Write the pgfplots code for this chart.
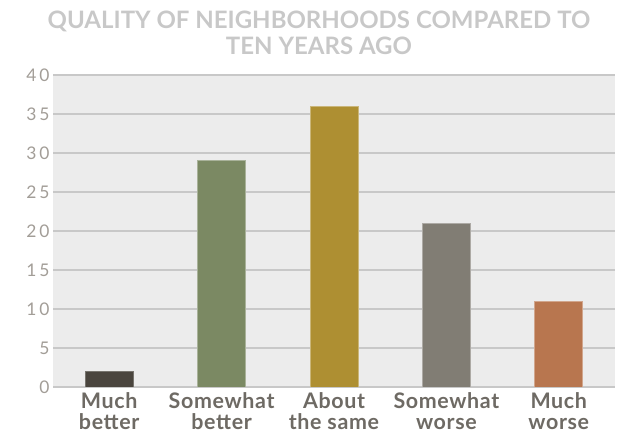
\documentclass[border=0pt]{standalone}
\usepackage{fontspec}
\setmainfont{Lato}
\newfontfamily\xlabfont[LetterSpace=3]{Lato}
\newfontfamily\ylabfont[LetterSpace=16]{Lato}
\usepackage{pgfplots}
\pgfplotsset{compat=1.18}
\definecolor{bg}{HTML}{ECECEC}
\definecolor{gridc}{HTML}{C8C8C8}
\definecolor{ylab}{HTML}{A29D97}
\definecolor{xlab}{HTML}{6E6A64}
\definecolor{titlec}{HTML}{C8C8C8}
\definecolor{c1}{HTML}{4A453E}
\definecolor{c2}{HTML}{7B8963}
\definecolor{c3}{HTML}{AE8F32}
\definecolor{c4}{HTML}{817D74}
\definecolor{c5}{HTML}{B8764F}
\begin{document}
\begin{tikzpicture}
\begin{axis}[
  name=ax,
  at={(53bp,46bp)}, anchor=south west,
  width=562bp, height=312bp, scale only axis,
  xmin=-0.5, xmax=4.5, ymin=0, ymax=40,
  ytick={0,5,...,40},
  xtick={0,1,2,3,4},
  /pgf/number format/assume math mode=true,
  xticklabels={Much\\better, Somewhat\\better, About\\the same, Somewhat\\worse, Much\\worse},
  xticklabel style={align=center, font=\xlabfont\bfseries\fontsize{21.5}{20.5}\selectfont, text=xlab, yshift=-2.5bp},
  yticklabel style={font=\ylabfont\fontsize{17.5}{17.5}\selectfont, text=ylab, xshift=0bp},
  axis background/.style={fill=bg},
  axis line style={draw=none},
  major tick length=0pt,
  ymajorgrids, grid style={gridc, line width=1.6bp},
  ybar, bar width=48bp, bar shift=0pt,
]
\addplot[fill=c1, draw=c1!75!white, line width=0.8bp] coordinates {(0,2)};
\addplot[fill=c2, draw=c2!65!white, line width=0.8bp] coordinates {(1,29)};
\addplot[fill=c3, draw=c3!65!white, line width=0.8bp] coordinates {(2,36)};
\addplot[fill=c4, draw=c4!65!white, line width=0.8bp] coordinates {(3,21)};
\addplot[fill=c5, draw=c5!65!white, line width=0.8bp] coordinates {(4,11)};
\end{axis}
\node[anchor=base, text=titlec, font=\bfseries\fontsize{24.1}{26}\selectfont, inner sep=0] at (319bp,404bp) {QUALITY OF NEIGHBORHOODS COMPARED TO};
\node[anchor=base, text=titlec, font=\bfseries\fontsize{24.1}{26}\selectfont, inner sep=0] at (319bp,378bp) {TEN YEARS AGO};
\pgfresetboundingbox
\path (0bp,0bp) rectangle (620bp,433bp);
\end{tikzpicture}
\end{document}
